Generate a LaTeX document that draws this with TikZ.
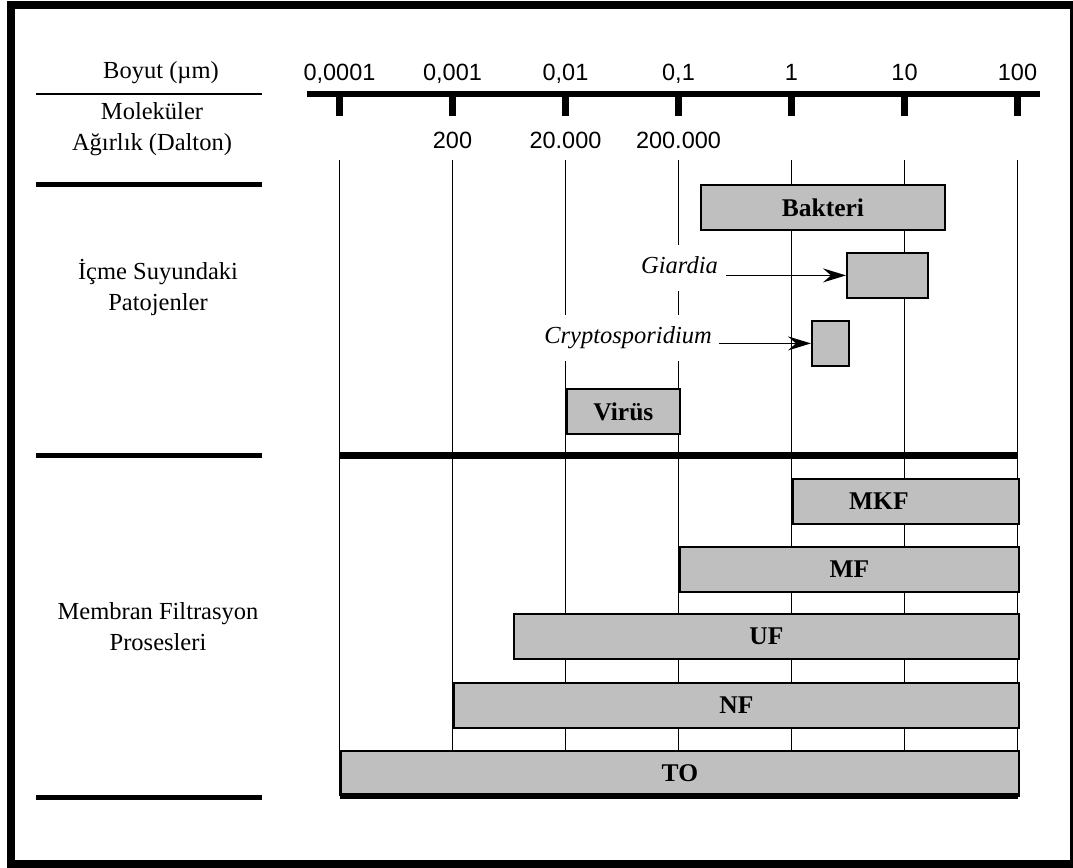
\documentclass[tikz,border=0pt]{standalone}
\usepackage{fontspec}
\setmainfont{Liberation Serif}
\newfontfamily\sayifont{Liberation Sans}
\usepackage{xcolor}
\usetikzlibrary{arrows.meta, positioning}
\definecolor{kutugri}{gray}{0.75}

\begin{document}
\begin{tikzpicture}[x=1pt, y=-1pt,
    kutu/.style={draw, line width=1.8pt, fill=kutugri, inner sep=0pt, anchor=north west,
        minimum height=45pt, font=\fontsize{25.5}{30}\selectfont\bfseries},
    yazi/.style={font=\fontsize{24.5}{31}\selectfont, align=center},
    sayi/.style={font=\fontsize{23.5}{28}\sayifont, anchor=base},
    etiket/.style={fill=white, font=\fontsize{24.5}{30}\selectfont\itshape, text height=17pt,
        text depth=6pt, inner xsep=3pt, inner ysep=11.5pt, anchor=base east},
    ok/.style={-{Stealth[length=23pt, width=14pt, inset=8pt]}, line width=1.8pt}]
    \useasboundingbox (0,0) rectangle (1073,867);
    % 1. Çerçeve
    \draw[line width=8pt] (11,5) rectangle (1074,864);

    % 2. Sol sütun
    \node[yazi, anchor=base] (boyut) at (161,78) {Boyut (µm)};
    \node[yazi] (molekul) at (152,129) {Moleküler\\Ağırlık (Dalton)};
    \node[yazi] (patojen) at (158,287) {İçme Suyundaki\\Patojenler};
    \node[yazi] (membran) at (158,627) {Membran Filtrasyon\\Prosesleri};
    \draw[line width=1.5pt] (36,94) -- (262,94);
    \draw[line width=5pt] (36,184.5) -- (262,184.5);
    \draw[line width=5pt] (36,455.5) -- (262,455.5);
    \draw[line width=5pt] (36,797) -- (262,797);

    % 3. Eksen ve ölçek
    \draw[line width=6.5pt] (307,94) -- (1040,94);
    \foreach \i/\ust/\alt in {0/{0,0001}/{}, 1/{0,001}/{200}, 2/{0,01}/{20.000},
        3/{0,1}/{200.000}, 4/{1}/{}, 5/{10}/{}, 6/{100}/{}} {
        \draw[line width=7pt] ({339.5+113*\i},94) -- ({339.5+113*\i},116);
        \draw[line width=1.8pt] ({339.5+113*\i},160) -- ({339.5+113*\i},796);
        \node[sayi] at ({339.5+113*\i},81) {\ust};
        \node[sayi] at ({339.5+113*\i},148) {\alt};
    }
    \draw[line width=7pt] (339.5,455.5) -- (1017.5,455.5);

    % 4. Patojenler
    \node[etiket] (giardia) at (721,273) {Giardia};
    \node[etiket] (crypto) at (715,343) {Cryptosporidium};
    \node[kutu, minimum width=244pt] (bakteri) at (700,184) {Bakteri};
    \node[kutu, minimum width=81pt] (giardiakutu) at (846,252) {};
    \node[kutu, minimum width=37pt] (cryptokutu) at (811,320) {};
    \node[kutu, minimum width=113pt] (virus) at (566,388) {Virüs};
    \draw[ok, shorten <=5pt] (giardia.east |- giardiakutu.west) -- (giardiakutu.west);
    \draw[ok, shorten <=4pt] (crypto.east |- cryptokutu.west) -- (cryptokutu.west);

    % 5. Membran prosesleri
    \node[kutu, minimum width=226pt] (mkf) at (792,478) {};
    \node[font=\fontsize{25.5}{30}\selectfont\bfseries] at ([xshift=-27pt]mkf.center) {MKF};
    \node[kutu, minimum width=339pt] (mf) at (679,546) {MF};
    \node[kutu, minimum width=505pt] (uf) at (513,613) {UF};
    \node[kutu, minimum width=565pt] (nf) at (453,682) {NF};
    \node[kutu, minimum width=678pt] (to) at (340,750) {TO};
    \draw[line width=6pt] (339.5,796) -- (1017.5,796);
\end{tikzpicture}
\end{document}
